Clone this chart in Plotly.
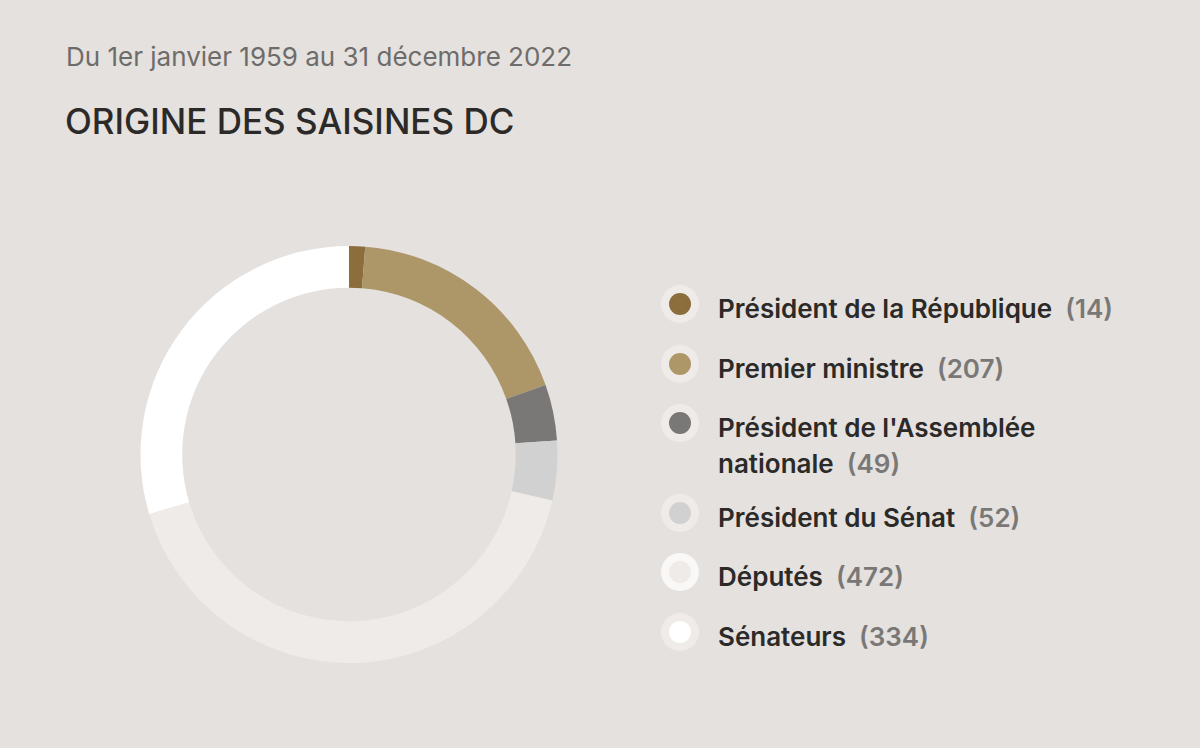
import plotly.graph_objects as go

# data
labels = ["Président de la République", "Premier ministre",
          "Président de l'Assemblée nationale", "Président du Sénat",
          "Députés", "Sénateurs"]
legend_lines = [["Président de la République"], ["Premier ministre"],
                ["Président de l'Assemblée", "nationale"], ["Président du Sénat"],
                ["Députés"], ["Sénateurs"]]
values = [14, 207, 49, 52, 472, 334]
colors = ["#8B6E3C", "#AD9769", "#797876", "#D1D1D1", "#EEEBE8", "#FFFFFF"]
halo_colors = ["#EEEBE8", "#EEEBE8", "#EEEBE8", "#EEEBE8", "#F9F8F7", "#EEEBE8"]

bg = "#E4E1DE"
W, H = 1200, 748
FONT = "Inter"

fig = go.Figure()

# donut, clockwise from top
fig.add_trace(go.Pie(
    labels=labels, values=values, sort=False, direction="clockwise",
    rotation=0, hole=0.80,
    marker=dict(colors=colors, line=dict(width=0)),
    textinfo="none", hoverinfo="label+value", showlegend=False,
    domain=dict(x=[140 / W, 558 / W], y=[(H - 663) / H, (H - 246) / H]),
))

# legend rows (pixel positions on a hidden axis)
row_y = [304, 364, 423, 513, 572, 632]
dot_x = 680

fig.add_trace(go.Scatter(
    x=[dot_x] * len(values), y=row_y, mode="markers",
    marker=dict(size=38, color=halo_colors, line=dict(width=0)),
    hoverinfo="skip", showlegend=False))
fig.add_trace(go.Scatter(
    x=[dot_x] * len(values), y=row_y, mode="markers",
    marker=dict(size=22, color=colors, line=dict(width=0)),
    hoverinfo="skip", showlegend=False))

annotations = [
    dict(text="Du 1er janvier 1959 au 31 décembre 2022", x=64, y=56,
         xref="x", yref="y", xanchor="left", yanchor="middle", showarrow=False,
         font=dict(family=FONT, size=26, color="#6E6C6A")),
    dict(text="ORIGINE DES SAISINES DC", x=63, y=121,
         xref="x", yref="y", xanchor="left", yanchor="middle", showarrow=False,
         font=dict(family=FONT, size=35, color="#2B2A28", weight=500)),
]
for lines, v, y in zip(legend_lines, values, row_y):
    for i, line in enumerate(lines):
        txt = line
        if i == len(lines) - 1:
            txt += f"  <span style='color:#7A7876'>({v})</span>"
        annotations.append(dict(
            text=txt, x=716, y=y + 4 + 36 * i, xref="x", yref="y",
            xanchor="left", yanchor="middle", align="left", showarrow=False,
            font=dict(family=FONT, size=26, color="#2B2A28", weight=600)))

fig.update_layout(
    width=W, height=H,
    paper_bgcolor=bg, plot_bgcolor=bg,
    margin=dict(l=0, r=0, t=0, b=0),
    xaxis=dict(range=[0, W], visible=False, fixedrange=True),
    yaxis=dict(range=[H, 0], visible=False, fixedrange=True),
    annotations=annotations,
)

fig.write_html("out.html", config={"displayModeBar": False},
               post_script="document.body.style.margin='0';")
